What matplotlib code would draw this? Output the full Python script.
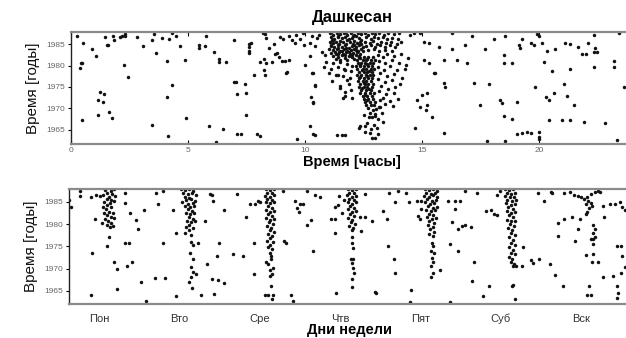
import matplotlib
matplotlib.use('Agg')
from matplotlib import pyplot as pl

# ---- top panel: hour of day vs year ----
top_sparse = [
    (0.24, 1987.0), (0.5, 1985.3), (0.41, 1980.7), (0.48, 1980.7), (0.38, 1979.4), (0.46, 1967.3),
    (0.91, 1983.8), (1.07, 1982.2), (1.24, 1973.8), (1.40, 1973.3), (1.15, 1972.0), (1.35, 1971.4),
    (1.61, 1969.1), (1.77, 1967.7), (1.15, 1968.4), (1.47, 1986.6), (1.52, 1984.7), (1.59, 1984.9),
    (1.79, 1986.9), (1.84, 1985.9), (2.09, 1986.7), (2.18, 1986.8), (2.29, 1987.3), (2.32, 1986.9),
    (2.28, 1980.2), (2.42, 1977.3), (2.81, 1986.7), (3.09, 1984.5), (3.46, 1986.0), (3.55, 1987.3),
    (3.65, 1983.0), (3.89, 1986.5), (4.19, 1986.2), (4.33, 1987.5), (4.50, 1986.9), (4.10, 1981.1),
    (4.30, 1975.5), (4.09, 1972.7), (3.48, 1966.1), (4.13, 1963.6), (4.66, 1984.5), (4.86, 1981.3),
    (4.91, 1967.7), (5.48, 1984.8), (5.48, 1984.2), (5.76, 1986.9), (5.74, 1984.6), (6.11, 1983.1),
    (6.31, 1981.5), (6.31, 1980.9), (6.62, 1980.9), (5.91, 1965.9), (6.18, 1962.2), (6.48, 1965.1),
    (6.95, 1985.9), (6.97, 1976.1), (7.06, 1976.1), (7.08, 1973.4), (7.45, 1975.8), (7.48, 1973.7),
    (7.48, 1968.5), (7.07, 1964.0), (7.25, 1964.0), (7.93, 1964.1), (8.05, 1963.6), (7.62, 1985.0),
    (7.60, 1984.4), (7.62, 1983.3), (7.62, 1982.9), (7.68, 1985.3), (7.82, 1977.9), (8.28, 1977.9),
    (8.26, 1978.9), (8.25, 1981.5), (8.08, 1980.8), (8.34, 1980.7), (8.28, 1987.3), (8.32, 1986.5),
    (8.45, 1984.2), (8.65, 1985.0), (8.93, 1986.7), (9.07, 1986.1), (9.29, 1986.9), (9.43, 1985.9),
    (9.57, 1985.2), (9.79, 1986.1), (9.93, 1984.8), (10.21, 1985.3), (10.43, 1984.5), (10.57, 1987.1),
    (8.72, 1982.7), (8.86, 1982.1), (8.58, 1980.9), (9.19, 1978.3), (10.0, 1980.1), (10.21, 1982.2),
    (10.35, 1978.2), (10.71, 1983.2), (10.85, 1982.4), (10.43, 1975.5), (10.24, 1972.7), (10.33, 1971.6),
    (10.21, 1965.8), (10.35, 1964.0), (9.67, 1962.8), (11.35, 1963.8), (11.71, 1963.8), (11.42, 1977.8),
    (11.5, 1975.2), (11.64, 1979.3), (11.71, 1973.9), (11.78, 1976.6), (11.61, 1972.4),
    (8.8, 1982.9), (9.0, 1981.0), (9.15, 1981.0), (9.3, 1981.2), (9.22, 1978.6), (10.29, 1978.2),
    (9.6, 1987.2), (9.9, 1987.5), (10.3, 1987.0), (10.5, 1986.4), (8.2, 1987.6),
    (16.27, 1987.6), (17.12, 1986.9), (18.05, 1986.3), (18.55, 1986.9), (19.9, 1987.3), (19.97, 1986.9),
    (20.11, 1985.3), (19.26, 1986.1), (19.12, 1984.8), (19.62, 1985.2), (19.76, 1984.8), (19.19, 1984.0),
    (20.33, 1983.4), (20.68, 1983.8), (21.11, 1985.2), (21.32, 1985.0), (21.65, 1984.4), (21.82, 1982.8),
    (21.97, 1982.8), (22.06, 1985.2), (22.32, 1987.1), (22.39, 1984.0), (22.32, 1983.2), (22.47, 1983.2),
    (23.39, 1987.6), (16.27, 1983.8), (16.84, 1984.8), (17.69, 1983.8), (18.47, 1982.4), (15.70, 1984.4),
    (15.91, 1981.4), (16.48, 1981.3), (16.91, 1980.7), (18.5, 1980.5), (18.83, 1980.7), (20.18, 1980.9),
    (20.54, 1978.8), (21.32, 1979.3), (22.32, 1979.7), (23.18, 1981.1), (23.18, 1979.7), (15.49, 1978.2),
    (15.91, 1975.9), (15.98, 1974.9), (17.19, 1975.9), (17.83, 1975.7), (19.83, 1975.1), (21.04, 1975.7),
    (20.26, 1972.7), (20.4, 1971.9), (20.64, 1973.7), (21.18, 1972.9), (21.47, 1970.8), (23.6, 1975.1),
    (17.48, 1970.8), (18.33, 1971.9), (18.41, 1971.3), (19.05, 1971.6), (18.47, 1968.3), (18.83, 1967.5),
    (20.4, 1967.2), (20.97, 1967.3), (21.32, 1967.2), (21.89, 1966.9), (22.82, 1966.7), (19.05, 1964.1),
    (19.26, 1964.2), (19.47, 1964.5), (19.62, 1964.2), (19.97, 1964.6), (19.97, 1963.4), (19.99, 1962.9),
    (17.76, 1962.3), (18.55, 1962.5), (23.32, 1962.7), (15.91, 1964.2), (15.41, 1967.9), (15.2, 1970.8),
    (15.17, 1969.7), (14.7, 1965.5), (14.91, 1970.4), (14.77, 1971.9), (15.2, 1973.5), (14.99, 1973.1),
    (15.56, 1978.3), (15.27, 1980.5), (15.06, 1981.4), (15.27, 1985.2), (15.06, 1985.5), (14.63, 1987.5),
    (14.49, 1987.1), (14.91, 1987.6), (10.43, 1975.2), (10.35, 1971.2), (10.43, 1963.8), (11.57, 1963.8),
    (12.56, 1966.0), (12.28, 1965.4), (12.78, 1964.2), (12.85, 1963.1), (12.99, 1963.1), (12.71, 1967.9),
    (12.99, 1968.3), (13.28, 1968.9), (13.13, 1970.4), (13.03, 1969.8), (13.21, 1972.0),
]

top_cluster = [
    # midday band, 1981-1988
    (11.05, 1987.5), (11.2, 1987.2), (11.35, 1987.6), (11.5, 1987.3), (11.65, 1987.6), (11.8, 1987.1),
    (11.95, 1987.5), (12.1, 1987.2), (12.25, 1987.6), (12.4, 1987.3), (11.1, 1986.6), (11.25, 1986.3),
    (11.4, 1986.7), (11.55, 1986.4), (11.7, 1986.6), (11.85, 1986.2), (12.0, 1986.5), (12.15, 1986.8),
    (12.3, 1986.4), (11.15, 1986.0), (11.05, 1985.5), (11.2, 1985.2), (11.3, 1985.6), (11.45, 1985.0),
    (11.6, 1985.4), (11.75, 1985.1), (11.9, 1985.5), (12.05, 1985.0), (12.2, 1985.3), (12.35, 1985.6),
    (11.1, 1984.6), (11.25, 1984.3), (11.4, 1984.8), (11.55, 1984.4), (11.7, 1984.7), (11.85, 1984.2),
    (12.0, 1984.6), (12.15, 1984.3), (12.3, 1984.7), (12.45, 1984.4), (11.0, 1983.8), (11.2, 1983.6),
    (11.35, 1983.9), (11.5, 1983.5), (11.65, 1983.8), (11.8, 1983.4), (11.95, 1983.7), (12.1, 1983.9),
    (12.25, 1983.5), (12.4, 1983.8), (11.1, 1983.0), (11.3, 1982.7), (11.45, 1983.1), (11.6, 1982.8),
    (11.75, 1983.2), (11.9, 1982.6), (12.05, 1982.9), (12.2, 1983.2), (12.35, 1982.7), (11.2, 1982.3),
    (11.4, 1982.0), (11.55, 1982.4), (11.7, 1981.8), (11.85, 1982.2), (12.0, 1981.9), (12.15, 1982.5),
    (12.3, 1982.0), (11.5, 1981.4), (11.8, 1981.2), (12.1, 1981.5), (11.3, 1981.6),
    (11.12, 1987.8), (11.42, 1986.9), (11.72, 1987.8), (12.02, 1986.9), (12.32, 1987.8),
    (11.18, 1985.9), (11.48, 1985.8), (11.78, 1985.9), (12.08, 1985.8), (12.38, 1986.0),
    (11.12, 1984.9), (11.42, 1984.1), (11.72, 1984.1), (12.08, 1984.9), (12.38, 1985.0),
    (11.28, 1983.2), (11.58, 1983.3), (11.88, 1983.1), (12.18, 1983.7), (12.48, 1983.3),
    (11.38, 1982.6), (11.68, 1982.4), (11.98, 1982.5), (12.28, 1982.3),
    # afternoon extension
    (12.55, 1987.5), (12.7, 1987.2), (12.85, 1987.6), (13.0, 1987.3), (13.15, 1987.6), (13.35, 1987.2),
    (13.55, 1987.5), (13.8, 1987.3), (14.0, 1987.6), (12.6, 1986.6), (12.8, 1986.3), (12.95, 1986.7),
    (13.1, 1986.4), (13.3, 1986.6), (13.5, 1986.2), (13.7, 1986.5), (13.95, 1986.3), (12.55, 1985.6),
    (12.75, 1985.3), (12.9, 1985.7), (13.05, 1985.1), (13.25, 1985.5), (13.45, 1985.2), (13.65, 1985.6),
    (13.9, 1985.0), (14.1, 1985.4), (12.6, 1984.5), (12.8, 1984.8), (13.0, 1984.3), (13.2, 1984.7),
    (13.4, 1984.4), (13.6, 1984.8), (13.85, 1984.3), (12.7, 1983.6), (12.95, 1983.9), (13.15, 1983.4),
    (13.4, 1983.7), (13.7, 1983.5),
    # column around 12-13 h
    (12.3, 1982.0), (12.5, 1982.0), (12.7, 1982.0), (12.9, 1982.0),
    (12.2, 1981.3), (12.45, 1981.3), (12.6, 1981.3), (12.8, 1981.3), (13.0, 1981.3),
    (12.25, 1980.6), (12.4, 1980.6), (12.55, 1980.6), (12.75, 1980.6), (12.9, 1980.6),
    (12.15, 1979.9), (12.35, 1979.9), (12.5, 1979.9), (12.7, 1979.9), (12.85, 1979.9),
    (12.2, 1979.2), (12.45, 1979.2), (12.6, 1979.2), (12.8, 1979.2), (12.95, 1979.2),
    (12.3, 1978.5), (12.5, 1978.5), (12.65, 1978.5), (12.85, 1978.5),
    (12.2, 1977.8), (12.4, 1977.8), (12.6, 1977.8), (12.75, 1977.8), (12.9, 1977.8),
    (12.3, 1977.1), (12.5, 1977.1), (12.7, 1977.1), (12.85, 1977.1),
    (12.25, 1976.4), (12.45, 1976.4), (12.6, 1976.4), (12.8, 1976.4),
    (12.35, 1975.7), (12.55, 1975.7), (12.7, 1975.7), (12.9, 1975.7),
    (12.3, 1975.0), (12.5, 1975.0), (12.65, 1975.0), (12.85, 1975.0),
    (12.4, 1974.3), (12.6, 1974.3), (12.8, 1974.3),
    (12.35, 1973.6), (12.55, 1973.6), (12.75, 1973.6), (12.95, 1973.6),
    (12.45, 1972.9), (12.65, 1972.9), (12.85, 1972.9),
    (12.5, 1972.2), (12.7, 1972.2), (12.9, 1972.2),
    (12.55, 1971.5), (12.75, 1971.5), (13.0, 1971.5),
    (12.6, 1970.8), (12.8, 1970.8), (12.95, 1970.8),
    (12.35, 1981.7), (12.65, 1981.6), (12.32, 1980.2), (12.62, 1980.3), (12.42, 1978.9),
    (12.72, 1978.8), (12.32, 1977.4), (12.62, 1977.5), (12.52, 1976.0), (12.42, 1974.7),
    (12.72, 1974.6), (12.55, 1973.2), (12.62, 1971.9),
    (12.7, 1970.1), (12.9, 1969.6), (12.75, 1969.0), (13.0, 1968.6), (12.85, 1967.9), (13.1, 1967.5),
    (12.65, 1966.6), (12.95, 1966.2), (12.8, 1965.1), (13.05, 1965.5), (13.2, 1970.3), (12.5, 1968.4),
    (12.35, 1965.9), (13.3, 1966.8), (12.55, 1964.4), (13.1, 1964.0),
    # early afternoon spread
    (13.1, 1982.5), (13.3, 1981.9), (13.5, 1982.7), (13.8, 1982.2), (14.1, 1982.6), (14.4, 1981.8),
    (13.15, 1981.0), (13.4, 1980.5), (13.7, 1981.2), (14.0, 1980.7), (14.3, 1980.2), (13.1, 1979.6),
    (13.35, 1979.0), (13.6, 1979.8), (13.9, 1978.9), (14.25, 1979.3), (13.2, 1978.2), (13.5, 1977.6),
    (13.8, 1978.0), (14.15, 1977.2), (13.1, 1976.8), (13.4, 1976.2), (13.7, 1976.6), (14.05, 1975.8),
    (13.25, 1975.3), (13.55, 1974.6), (13.85, 1975.0), (13.15, 1974.0), (13.45, 1973.3), (13.8, 1973.7),
    (13.3, 1972.4), (13.6, 1971.8), (13.95, 1972.1), (13.4, 1971.0), (13.75, 1970.6),
    # late morning spread
    (10.9, 1980.8), (11.2, 1980.5), (11.5, 1980.9), (11.8, 1980.3), (12.0, 1980.0), (10.8, 1979.6),
    (11.1, 1979.2), (11.4, 1979.7), (11.7, 1979.0), (11.95, 1978.7), (11.0, 1978.2), (11.3, 1977.9),
    (11.6, 1977.5), (11.9, 1977.0), (11.15, 1976.4), (11.85, 1975.8), (11.5, 1974.8), (11.95, 1974.2),
    (11.7, 1973.0), (12.0, 1972.4),
]

# ---- bottom panel: day of week vs year ----
day_names = ['Пон', 'Вто', 'Сре', 'Чтв', 'Пят', 'Суб', 'Вск']
day_ticks = [0.38, 1.38, 2.38, 3.38, 4.38, 5.38, 6.38]

week_sparse = [
    (0.0, 1985.5), (0.03, 1983.9), (0.14, 1987.5), (0.14, 1986.4), (0.28, 1986.2), (0.34, 1986.5),
    (0.39, 1986.4), (0.32, 1981.1), (0.41, 1980.2), (0.29, 1973.6), (0.28, 1964.2), (0.70, 1987.1),
    (0.70, 1984.8), (0.76, 1982.5), (0.93, 1983.2), (0.83, 1980.9), (0.86, 1978.8), (0.70, 1975.8),
    (0.75, 1975.8), (0.72, 1970.7), (0.79, 1971.6), (0.9, 1967.0), (0.96, 1962.7), (1.07, 1967.8),
    (1.2, 1967.8), (1.09, 1987.1), (1.17, 1987.5), (1.11, 1984.5), (1.3, 1983.1), (1.34, 1978.1),
    (1.17, 1975.7), (1.33, 1963.8), (1.69, 1980.7), (1.61, 1975.7), (1.76, 1986.7), (1.78, 1986.5),
    (1.80, 1985.2), (1.93, 1983.2), (1.87, 1975.8), (1.84, 1972.8), (1.72, 1971.0), (1.78, 1967.6),
    (1.86, 1967.4), (1.93, 1966.8), (1.81, 1964.4), (1.65, 1964.2), (2.09, 1986.7), (2.05, 1973.2),
    (2.17, 1972.8), (2.2, 1981.5), (2.25, 1984.5), (2.32, 1984.5), (2.31, 1975.8), (2.31, 1968.7),
    (2.35, 1985.2), (2.38, 1985.0), (2.44, 1964.2), (2.48, 1964.0), (2.54, 1964.2), (2.53, 1963.1),
    (2.68, 1976.2), (2.71, 1975.8), (2.81, 1985.2), (2.88, 1984.5), (2.92, 1984.5), (2.84, 1983.7),
    (2.86, 1982.7), (2.67, 1987.5), (2.96, 1987.5), (3.06, 1986.5), (3.13, 1986.2), (3.01, 1980.9),
    (2.96, 1979.8), (3.04, 1974.0), (2.77, 1964.2), (2.79, 1962.7), (3.27, 1981.1), (3.31, 1981.1),
    (3.32, 1977.9), (3.32, 1983.9), (3.35, 1984.3), (3.40, 1982.6), (3.33, 1964.6), (3.37, 1986.4),
    (3.42, 1985.5), (3.69, 1986.7), (3.62, 1981.5), (3.69, 1981.5), (3.78, 1980.7), (3.64, 1978.5),
    (3.91, 1983.0), (3.96, 1981.1), (3.98, 1975.1), (3.99, 1987.1), (4.10, 1987.5), (4.06, 1985.0),
    (4.05, 1972.2), (4.06, 1969.1), (3.81, 1964.7), (3.83, 1964.6), (4.26, 1965.3), (4.25, 1962.5),
    (4.20, 1987.0), (4.23, 1985.0), (4.33, 1985.2), (4.39, 1985.2), (4.35, 1981.8), (4.37, 1981.1),
    (4.39, 1983.4), (4.62, 1969.7), (4.74, 1975.5), (4.85, 1974.0), (4.72, 1985.2), (4.81, 1985.2),
    (4.87, 1985.2), (4.81, 1983.5), (4.77, 1980.5), (4.85, 1978.9), (4.89, 1979.6), (4.93, 1979.8),
    (5.01, 1979.4), (4.93, 1987.5), (5.08, 1987.0), (5.20, 1983.0), (5.26, 1983.2), (5.04, 1971.5),
    (5.02, 1967.2), (5.23, 1966.1), (5.16, 1963.8), (4.74, 1962.5), (5.30, 1982.2), (5.33, 1982.0),
    (5.33, 1986.5), (5.37, 1987.5), (5.66, 1974.9), (5.76, 1971.9), (5.86, 1972.2), (5.78, 1971.2),
    (5.99, 1971.0), (6.05, 1968.5), (6.15, 1966.2), (5.84, 1987.0), (6.0, 1987.3), (6.24, 1987.3),
    (5.92, 1985.2), (6.09, 1980.3), (6.16, 1981.2), (6.26, 1981.5), (6.36, 1981.2), (6.34, 1978.8),
    (6.09, 1977.3), (6.30, 1976.2), (6.34, 1986.4), (6.38, 1986.0), (6.42, 1985.6), (6.45, 1986.2),
    (6.47, 1985.2), (6.50, 1984.8), (6.44, 1984.6), (6.52, 1984.0), (6.48, 1983.6), (6.45, 1982.7),
    (6.44, 1982.2), (6.59, 1987.5), (6.55, 1987.3), (6.65, 1984.1), (6.74, 1984.5), (6.80, 1984.5),
    (6.86, 1985.0), (6.89, 1983.9), (6.92, 1983.2), (6.66, 1981.5), (6.53, 1979.8), (6.55, 1979.0),
    (6.53, 1978.1), (6.50, 1976.7), (6.55, 1977.0), (6.53, 1976.6), (6.53, 1975.5), (6.53, 1973.2),
    (6.44, 1973.0), (6.52, 1971.5), (6.59, 1971.5), (6.65, 1968.2), (6.78, 1968.3), (6.48, 1966.1),
    (6.45, 1964.2), (6.50, 1964.2), (6.83, 1975.2), (6.88, 1975.1), (6.89, 1972.8), (6.88, 1969.1),
    (6.83, 1966.2), (6.84, 1964.6), (6.83, 1963.4), (6.92, 1970.4), (6.02, 1986.9), (6.17, 1986.9),
    (6.29, 1986.5), (6.50, 1986.7), (6.61, 1987.3),
]

week_columns = [
    # Mon
    (0.45, 1987.7), (0.52, 1987.5), (0.56, 1987.8), (0.48, 1987.0), (0.54, 1986.8), (0.43, 1986.5),
    (0.50, 1986.2), (0.57, 1986.4), (0.47, 1985.7), (0.53, 1985.4), (0.44, 1985.0), (0.51, 1984.8),
    (0.56, 1985.1), (0.48, 1984.3), (0.42, 1983.8), (0.53, 1983.9), (0.46, 1983.3), (0.50, 1982.8),
    (0.44, 1982.4), (0.55, 1982.6), (0.48, 1982.0), (0.52, 1981.5), (0.45, 1981.1), (0.56, 1981.3),
    (0.49, 1980.6), (0.53, 1980.2), (0.47, 1979.7), (0.51, 1979.3), (0.55, 1979.5), (0.50, 1977.0),
    (0.48, 1975.2), (0.56, 1971.5), (0.60, 1970.0), (0.60, 1965.5),
    # Tue
    (1.40, 1987.8), (1.45, 1987.6), (1.50, 1987.8), (1.55, 1987.5), (1.42, 1987.0), (1.48, 1986.8),
    (1.53, 1987.1), (1.58, 1986.6), (1.44, 1986.2), (1.50, 1985.9), (1.46, 1985.4), (1.52, 1985.6),
    (1.57, 1985.2), (1.41, 1984.9), (1.48, 1984.6), (1.54, 1984.8), (1.45, 1984.1), (1.51, 1983.8),
    (1.56, 1984.0), (1.48, 1983.3), (1.53, 1983.0), (1.46, 1982.5), (1.51, 1982.2), (1.56, 1982.4),
    (1.49, 1981.6), (1.54, 1981.2), (1.47, 1980.8), (1.52, 1980.4), (1.57, 1980.6), (1.50, 1979.9),
    (1.46, 1979.4), (1.54, 1979.2), (1.49, 1978.6), (1.44, 1978.0), (1.52, 1977.6), (1.52, 1976.0),
    (1.55, 1975.4), (1.51, 1973.6), (1.54, 1972.2), (1.52, 1970.4), (1.55, 1969.2), (1.58, 1968.9),
    (1.52, 1968.2), (1.50, 1967.0), (1.53, 1965.7),
    # Wed
    (2.45, 1987.8), (2.50, 1987.6), (2.55, 1987.8), (2.47, 1987.1), (2.53, 1986.9), (2.44, 1986.4),
    (2.50, 1986.2), (2.56, 1986.5), (2.47, 1985.6), (2.53, 1985.4), (2.45, 1984.9), (2.51, 1984.7),
    (2.56, 1985.0), (2.48, 1984.1), (2.53, 1983.6), (2.46, 1983.2), (2.51, 1982.8), (2.55, 1983.0),
    (2.48, 1982.3), (2.53, 1981.9), (2.46, 1981.4), (2.51, 1981.0), (2.56, 1981.2), (2.49, 1980.4),
    (2.54, 1980.0), (2.47, 1979.6), (2.52, 1979.2), (2.50, 1978.6), (2.55, 1978.3), (2.48, 1977.8),
    (2.53, 1977.4), (2.50, 1976.8), (2.47, 1976.3), (2.54, 1976.0), (2.51, 1975.4), (2.48, 1974.8),
    (2.53, 1974.4), (2.50, 1973.6), (2.52, 1972.8), (2.46, 1971.5), (2.48, 1971.0), (2.52, 1972.1),
    (2.54, 1970.2), (2.51, 1969.6), (2.53, 1968.9), (2.50, 1968.3), (2.52, 1966.1),
    # Thu
    (3.47, 1987.8), (3.52, 1987.6), (3.57, 1987.8), (3.49, 1987.1), (3.55, 1986.9), (3.46, 1986.5),
    (3.52, 1986.2), (3.58, 1986.4), (3.49, 1985.7), (3.55, 1985.4), (3.47, 1984.9), (3.52, 1984.6),
    (3.57, 1984.9), (3.50, 1984.0), (3.55, 1983.6), (3.48, 1983.3), (3.53, 1982.8), (3.58, 1983.0),
    (3.50, 1982.3), (3.55, 1981.9), (3.48, 1981.4), (3.53, 1981.0), (3.51, 1980.4), (3.56, 1980.1),
    (3.49, 1979.6), (3.54, 1979.2), (3.52, 1978.6), (3.53, 1977.0), (3.53, 1975.8), (3.54, 1974.7),
    (3.51, 1972.2), (3.54, 1972.1), (3.53, 1971.2), (3.54, 1970.2), (3.55, 1969.1), (3.53, 1967.7),
    (3.53, 1965.9),
    # Fri
    (4.43, 1987.8), (4.48, 1987.6), (4.54, 1987.8), (4.58, 1987.4), (4.45, 1987.0), (4.51, 1986.8),
    (4.56, 1987.1), (4.42, 1986.4), (4.48, 1986.2), (4.54, 1986.5), (4.59, 1986.0), (4.46, 1985.6),
    (4.52, 1985.3), (4.57, 1985.5), (4.44, 1984.9), (4.50, 1984.6), (4.55, 1984.8), (4.47, 1984.0),
    (4.53, 1983.7), (4.58, 1983.9), (4.45, 1983.2), (4.51, 1982.9), (4.56, 1983.1), (4.48, 1982.3),
    (4.54, 1982.0), (4.46, 1981.5), (4.52, 1981.2), (4.57, 1981.4), (4.49, 1980.6), (4.55, 1980.3),
    (4.47, 1979.8), (4.53, 1979.4), (4.50, 1978.8), (4.55, 1978.3), (4.48, 1977.8), (4.53, 1977.4),
    (4.52, 1975.8), (4.53, 1975.1), (4.51, 1974.0), (4.55, 1973.6), (4.52, 1972.5), (4.54, 1971.5),
    (4.51, 1970.6), (4.53, 1969.0), (4.51, 1968.2),
    # Sat
    (5.43, 1987.8), (5.48, 1987.6), (5.53, 1987.8), (5.45, 1987.0), (5.51, 1986.8), (5.56, 1987.1),
    (5.43, 1986.3), (5.49, 1986.0), (5.54, 1986.2), (5.46, 1985.5), (5.52, 1985.2), (5.57, 1985.4),
    (5.44, 1984.7), (5.50, 1984.4), (5.55, 1984.6), (5.47, 1983.8), (5.53, 1983.5), (5.45, 1983.0),
    (5.51, 1982.6), (5.56, 1982.8), (5.48, 1982.0), (5.53, 1981.6), (5.46, 1981.0), (5.51, 1980.6),
    (5.56, 1980.8), (5.49, 1980.0), (5.54, 1979.6), (5.47, 1979.1), (5.52, 1978.6), (5.50, 1977.9),
    (5.55, 1977.5), (5.48, 1977.0), (5.53, 1976.5), (5.50, 1975.8), (5.55, 1975.3), (5.48, 1974.8),
    (5.53, 1974.2), (5.50, 1973.6), (5.55, 1973.2), (5.48, 1972.6), (5.52, 1972.1), (5.50, 1971.5),
    (5.54, 1971.1), (5.53, 1970.7), (5.57, 1970.6), (5.64, 1970.7), (5.52, 1966.1), (5.53, 1966.3),
    (5.55, 1963.1),
]

year_ticks = [1965, 1970, 1975, 1980, 1985]

pl.rcParams['font.family'] = ['Liberation Sans', 'DejaVu Sans']

fig = pl.figure(figsize=(6.26, 3.38), dpi=100)
ax1 = fig.add_axes([0.1134, 0.574, 0.898, 0.331])
ax2 = fig.add_axes([0.110, 0.101, 0.898, 0.340])


def style(ax):
    for s in ('top', 'bottom'):
        ax.spines[s].set_color('#8a8a8a')
        ax.spines[s].set_linewidth(1.6)
    ax.spines['left'].set_color('#222222')
    ax.spines['left'].set_linewidth(1.0)
    ax.spines['right'].set_visible(False)
    ax.set_yticks(year_ticks)
    ax.tick_params(axis='y', direction='out', length=2.5, width=0.8,
                   labelsize=6, labelcolor='#666666', pad=2)
    ax.set_ylabel('Время [годы]', fontsize=11, labelpad=4, color='#111111',
                  family=['Liberation Sans Narrow', 'Liberation Sans'])


def draw(ax, pts):
    xs = [p[0] for p in pts]
    ys = [p[1] for p in pts]
    ax.plot(xs, ys, 'o', ms=2.5, color='#111111', mew=0, ls='none')


draw(ax1, top_sparse)
draw(ax1, top_cluster)
ax1.set_xlim(0, 24)
ax1.set_ylim(1961.7, 1987.8)
ax1.set_xticks([0, 5, 10, 15, 20])
ax1.tick_params(axis='x', direction='in', length=3, top=True, labelsize=6,
                labelcolor='#666666', pad=2)
style(ax1)
ax1.set_xlabel('Время [часы]', fontsize=10.5, fontweight='bold', labelpad=1)
ax1.set_title('Дашкесан', fontsize=12, fontweight='bold', pad=7)

draw(ax2, week_sparse)
draw(ax2, week_columns)
ax2.set_xlim(0, 7)
ax2.set_ylim(1962.1, 1987.9)
ax2.set_xticks(day_ticks)
ax2.set_xticklabels(day_names)
ax2.tick_params(axis='x', length=0, labelsize=8, labelcolor='#333333', pad=7)
style(ax2)
ax2.set_xlabel('Дни недели', fontsize=10.5, fontweight='bold', labelpad=-1)

fig.savefig('out.png', dpi=100)
